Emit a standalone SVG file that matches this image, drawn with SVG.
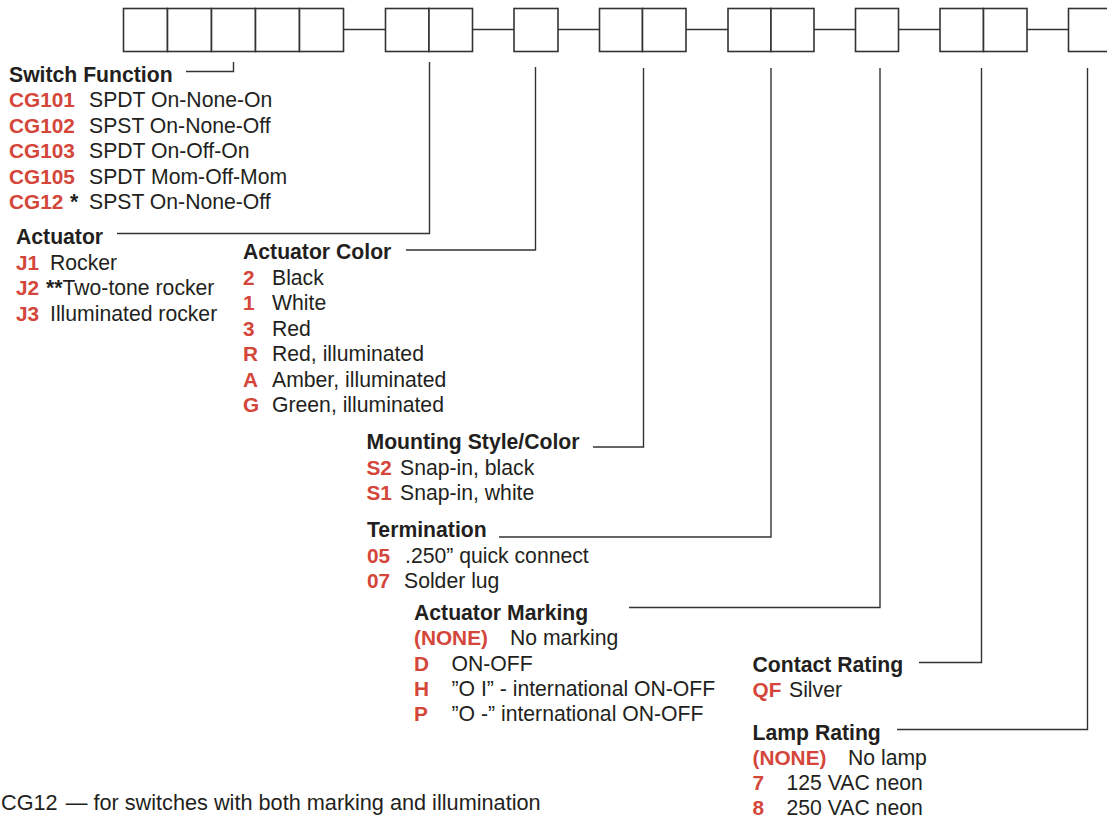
<svg xmlns="http://www.w3.org/2000/svg" width="1107" height="819" viewBox="0 0 1107 819">
<style>
text{font-family:"Liberation Sans",Arial,sans-serif;font-size:21.2px;fill:#231f20}
.h{font-weight:bold}
.c{font-weight:bold;fill:#d4463a;font-size:20.8px}
.f{font-size:21.7px}
.box{fill:#fff;stroke:#333;stroke-width:1.6}
.ln{fill:none;stroke:#333;stroke-width:1.4}
</style>
<rect width="1107" height="819" fill="#fff"/>
<g id="connectors">
<path class="ln" d="M344 29.5H385M473 29.5H514M558 29.5H600M686 29.5H728M814 29.5H855M899 29.5H940M1027 29.5H1068"/>
<path class="ln" d="M186 71.5H233.5V62"/>
<path class="ln" d="M117 233.5H429.5V62"/>
<path class="ln" d="M406 250H535.5V67"/>
<path class="ln" d="M593 447H643.5V68"/>
<path class="ln" d="M499 537H771V68"/>
<path class="ln" d="M629 607.5H880V68"/>
<path class="ln" d="M919 662.5H981.5V68"/>
<path class="ln" d="M897 729.5H1087.5V68"/>
</g>
<g id="code-boxes">
<rect class="box" x="123.5" y="8.5" width="44" height="43"/>
<rect class="box" x="167.5" y="8.5" width="44" height="43"/>
<rect class="box" x="211.5" y="8.5" width="44" height="43"/>
<rect class="box" x="255.5" y="8.5" width="44" height="43"/>
<rect class="box" x="299.5" y="8.5" width="44" height="43"/>
<rect class="box" x="385.5" y="8.5" width="43.5" height="43"/>
<rect class="box" x="429" y="8.5" width="43.5" height="43"/>
<rect class="box" x="514" y="8.5" width="44" height="43"/>
<rect class="box" x="599.5" y="8.5" width="43" height="43"/>
<rect class="box" x="642.5" y="8.5" width="43.5" height="43"/>
<rect class="box" x="728" y="8.5" width="43" height="43"/>
<rect class="box" x="771" y="8.5" width="43" height="43"/>
<rect class="box" x="855.5" y="8.5" width="43" height="43"/>
<rect class="box" x="940" y="8.5" width="43.5" height="43"/>
<rect class="box" x="983.5" y="8.5" width="43.5" height="43"/>
<rect class="box" x="1068.5" y="8.5" width="44" height="43"/>
</g>
<g id="switch-function">
<text class="h" x="9" y="81.5">Switch Function</text>
<text class="c" x="9" y="107">CG101</text><text x="89" y="107">SPDT On-None-On</text>
<text class="c" x="9" y="132.5">CG102</text><text x="89" y="132.5">SPST On-None-Off</text>
<text class="c" x="9" y="158">CG103</text><text x="89" y="158">SPDT On-Off-On</text>
<text class="c" x="9" y="183.5">CG105</text><text x="89" y="183.5">SPDT Mom-Off-Mom</text>
<text class="c" x="9" y="209">CG12</text><text class="h" x="70" y="209">*</text><text x="89" y="209">SPST On-None-Off</text>
</g>
<g id="actuator">
<text class="h" x="16" y="244">Actuator</text>
<text class="c" x="16" y="270">J1</text><text x="50" y="270">Rocker</text>
<text class="c" x="16" y="295">J2</text><text x="46" y="295"><tspan class="h">**</tspan>Two-tone rocker</text>
<text class="c" x="16" y="320.5">J3</text><text x="50" y="320.5">Illuminated rocker</text>
</g>
<g id="actuator-color">
<text class="h" x="243" y="259">Actuator Color</text>
<text class="c" x="243" y="284.5">2</text><text x="272" y="284.5">Black</text>
<text class="c" x="243" y="310">1</text><text x="272" y="310">White</text>
<text class="c" x="243" y="335.5">3</text><text x="272" y="335.5">Red</text>
<text class="c" x="243" y="361">R</text><text x="272" y="361">Red, illuminated</text>
<text class="c" x="243" y="386.5">A</text><text x="272" y="386.5">Amber, illuminated</text>
<text class="c" x="243" y="412">G</text><text x="272" y="412">Green, illuminated</text>
</g>
<g id="mounting-style">
<text class="h" x="366.5" y="449">Mounting Style/Color</text>
<text class="c" x="366.5" y="474.5">S2</text><text x="400" y="474.5">Snap-in, black</text>
<text class="c" x="366.5" y="500">S1</text><text x="400" y="500">Snap-in, white</text>
</g>
<g id="termination">
<text class="h" x="367" y="536.5">Termination</text>
<text class="c" x="367" y="562.5">05</text><text x="405" y="562.5">.250” quick connect</text>
<text class="c" x="367" y="588">07</text><text x="404" y="588">Solder lug</text>
</g>
<g id="actuator-marking">
<text class="h" x="414" y="620">Actuator Marking</text>
<text class="c" x="414" y="645">(NONE)</text><text x="510" y="645">No marking</text>
<text class="c" x="414" y="670.5">D</text><text x="451.5" y="670.5">ON-OFF</text>
<text class="c" x="414" y="696">H</text><text x="451.5" y="696">”O I” - international ON-OFF</text>
<text class="c" x="414" y="721">P</text><text x="451.5" y="721">”O -” international ON-OFF</text>
</g>
<g id="contact-rating">
<text class="h" x="752.5" y="672">Contact Rating</text>
<text class="c" x="752.5" y="697">QF</text><text x="789" y="697">Silver</text>
</g>
<g id="lamp-rating">
<text class="h" x="752.5" y="740">Lamp Rating</text>
<text class="c" x="752.5" y="765">(NONE)</text><text x="848" y="765">No lamp</text>
<text class="c" x="752.5" y="790">7</text><text x="786.5" y="790">125 VAC neon</text>
<text class="c" x="752.5" y="815">8</text><text x="786.5" y="815">250 VAC neon</text>
</g>
<g id="footnote">
<text class="f" x="1" y="810">CG12 <tspan dx="2">—</tspan> for switches with both marking and illumination</text>
</g>
</svg>
